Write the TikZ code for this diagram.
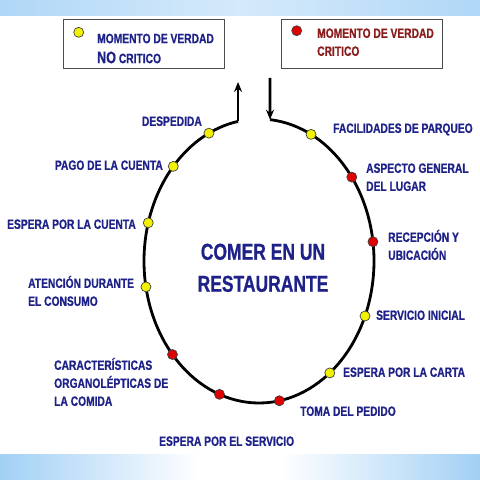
\documentclass[tikz,border=0pt]{standalone}
\usepackage{fontspec}
\setmainfont{Liberation Sans}[FakeStretch=0.76,BoldFeatures={FakeBold=0.8}]
\usepackage{tikz}
\usetikzlibrary{arrows.meta,calc,positioning}
\definecolor{textblue}{HTML}{1E2288}
\definecolor{textred}{HTML}{8B1C1C}
\definecolor{dotyellow}{HTML}{F2F200}
\definecolor{dotred}{HTML}{E00000}
\definecolor{bandblue}{HTML}{A2D0F5}
\tikzset{>={Stealth[length=10pt,width=8pt]}}
\tikzset{
	moment/.style={circle,draw=black!75,line width=0.7pt,minimum size=10,inner sep=0pt},
	noncrit/.style={moment,fill=dotyellow},
	crit/.style={moment,fill=dotred},
	stage/.style={font=\fontsize{13.5}{18}\selectfont\bfseries,text=textblue,align=left,inner sep=0pt,text height=9.7pt,text depth=0pt},
	title/.style={stage,font=\fontsize{23}{32}\selectfont\bfseries,align=center,text height=16.5pt},
	keybox/.style={draw=black!70,line width=0.8pt,fill=white,minimum width=161,minimum height=49},
	cycle/.style={line width=2.8pt},
	flow/.style={line width=2.8pt,->},
}

\begin{document}
\begin{tikzpicture}[x=1pt,y=1pt]
	\useasboundingbox (0,0) rectangle (480,480);
	\shade[left color=bandblue!85,right color=bandblue!85,middle color=bandblue!45] (0,464) rectangle (480,480);
	\shade[left color=bandblue,right color=white] (0,0) rectangle (200,25);
	\shade[left color=white,right color=bandblue] (280,0) rectangle (480,25);
	\fill[white] (200,0) rectangle (280,25);

	\node[keybox] (boxnc) at (143.5,436.5) {};
	\node[keybox] (boxc) at (361.5,436.5) {};
	\node[noncrit] (keync) at (78.7,447.7) {};
	\node[crit] (keyc) at (296.7,449.3) {};
	\node[stage,anchor=west,font=\fontsize{13.5}{20}\selectfont\bfseries] (txtnc) at (97,421.7) {MOMENTO DE VERDAD\\{\fontsize{16.5}{20}\selectfont NO} CRITICO};
	\node[stage,anchor=west,text=textred,font=\fontsize{13.5}{18}\selectfont\bfseries] (txtc) at (317,429) {MOMENTO DE VERDAD\\CRITICO};

	\coordinate (c) at (259,219);
	\coordinate (in) at ($(c)+(84.5:115 and 142)$);
	\coordinate (out) at ($(c)+(100.5:115 and 142)$);
	\coordinate (intop) at (270,402);
	\coordinate (outtip) at (238,398);
	\draw[cycle] (in) arc[start angle=84.5,end angle=-259.5,x radius=115,y radius=142];
	\draw[flow] (out) -- (out |- outtip);
	\draw[flow] (intop) -- (in);

	\node[noncrit] (parqueo) at ($(c)+(63.1:115 and 142)$) {};
	\node[crit] (aspecto) at ($(c)+(36.2:115 and 142)$) {};
	\node[crit] (recepcion) at ($(c)+(7.8:115 and 142)$) {};
	\node[noncrit] (inicial) at ($(c)+(-22.8:115 and 142)$) {};
	\node[noncrit] (carta) at ($(c)+(-52:115 and 142)$) {};
	\node[crit] (pedido) at ($(c)+(-79.8:115 and 142)$) {};
	\node[crit] (servicio) at ($(c)+(-110.1:115 and 142)$) {};
	\node[crit] (comida) at ($(c)+(-138.8:115 and 142)$) {};
	\node[noncrit] (consumo) at ($(c)+(190.5:115 and 142)$) {};
	\node[noncrit] (espera) at ($(c)+(164.4:115 and 142)$) {};
	\node[noncrit] (pago) at ($(c)+(138.2:115 and 142)$) {};
	\node[noncrit] (despedida) at ($(c)+(115.8:115 and 142)$) {};

	\node[title] (comer) at (263,196.5) {COMER EN UN\\RESTAURANTE};

	\node[stage,anchor=west] (parqueo-l) at (333,352) {FACILIDADES DE PARQUEO};
	\node[stage,anchor=west] (aspecto-l) at (366,294) {ASPECTO GENERAL\\DEL LUGAR};
	\node[stage,anchor=west] (recepcion-l) at (388,225) {RECEPCIÓN Y\\UBICACIÓN};
	\node[stage,anchor=west] (inicial-l) at (376,165) {SERVICIO INICIAL};
	\node[stage,anchor=west] (carta-l) at (343,108) {ESPERA POR LA CARTA};
	\node[stage,anchor=west] (pedido-l) at (300,69) {TOMA DEL PEDIDO};
	\node[stage,anchor=west] (servicio-l) at (159,39) {ESPERA POR EL SERVICIO};
	\node[stage,anchor=west] (comida-l) at (54,79) {CARACTERÍSTICAS\\ORGANOLÉPTICAS DE\\LA COMIDA};
	\node[stage,anchor=west] (consumo-l) at (28,179) {ATENCIÓN DURANTE\\EL CONSUMO};
	\node[stage,anchor=east] (espera-l) at (136,256) {ESPERA POR LA CUENTA};
	\node[stage,anchor=east] (pago-l) at (163,315) {PAGO DE LA CUENTA};
	\node[stage,anchor=east] (despedida-l) at (202,359) {DESPEDIDA};
\end{tikzpicture}
\end{document}
